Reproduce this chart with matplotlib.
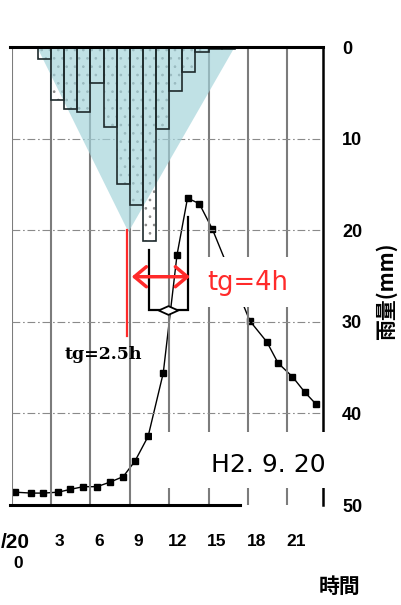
import numpy as np
import matplotlib
matplotlib.use("Agg")
import matplotlib.pyplot as plt
from matplotlib.patches import Polygon, Rectangle
from matplotlib.path import Path
from matplotlib.transforms import ScaledTranslation

plt.rcParams['font.family'] = ['Liberation Sans', 'DejaVu Sans']
plt.rcParams['hatch.linewidth'] = 0.7
CJK = ['Noto Sans CJK JP', 'DejaVu Sans']

# hourly rainfall (mm), bar starts at hour 2 .. 16
rain_start = np.arange(2, 17)
rain_mm = [1.3, 5.8, 6.8, 7.1, 3.9, 8.7, 15.0, 17.3, 21.2, 8.9, 4.8, 2.7, 0.5, 0.2, 0.2]

# discharge hydrograph (its own axis is cropped off in the source)
q_hour = [0.25, 1.5, 2.4, 3.55, 4.45, 5.45, 6.5, 7.5, 8.5, 9.4, 10.4, 11.55,
          12.6, 13.4, 14.3, 15.3, 18.15, 19.45, 20.3, 21.4, 22.35, 23.2]
q_val = [14, 13, 13, 14, 17, 20, 20, 25, 31, 48, 75, 144,
         273, 335, 329, 301, 201, 178, 155, 140, 123, 110]

# shaded triangle over the hyetograph
tri_hour = [1.93, 8.9, 17.0]
tri_rain = [0, 20.2, 0]

xticks = [3, 6, 9, 12, 15, 18, 21]
yticks = [0, 10, 20, 30, 40, 50]

RED = '#ff2a2a'
GRID = '#7c7c7c'

fig = plt.figure(figsize=(4.02, 6.05), dpi=100)
axq = fig.add_axes([11.7 / 402, 100 / 605, 311.6 / 402, 458 / 605])
axq.set_xlim(0, 23.75)
axq.set_ylim(0, 500)
axr = axq.twinx()
axr.set_ylim(50, 0)
for a in (axq, axr):
    for s in a.spines.values():
        s.set_visible(False)
axq.set_yticks([])

# right axis: rainfall
axr.set_yticks(yticks)
axr.set_yticklabels([str(v) for v in yticks], fontsize=13, fontweight='bold')
axr.tick_params(axis='y', length=0, pad=13.5)

# bottom axis: time
axq.set_xticks(xticks)
axq.set_xticklabels([str(v) for v in xticks], fontsize=12.5, fontweight='bold')
axq.tick_params(axis='x', length=0, pad=21)
off = ScaledTranslation(8.5 / 100, 0, fig.dpi_scale_trans)
for lab in axq.get_xticklabels():
    lab.set_transform(lab.get_transform() + off)
# date label, cropped at the left edge in the source
fig.text(1 / 402, 1 - 542 / 605, '/20', ha='left', va='center', fontsize=15,
         fontweight='bold')
axr.text(0.48, 56.4, '0', ha='center', va='center', fontsize=12.5,
         fontweight='bold', clip_on=False)

# grid
axr.vlines([0, 3, 6, 9, 12, 15, 18, 21], 0, 50, colors=GRID, lw=1.5, zorder=0.5)
axr.hlines([10, 20, 30, 40], 0, 23.75, colors='#8a8a8a', lw=0.8,
           linestyles=(0, (7, 2.5, 1.5, 2.5)), zorder=0.5)

# hydrograph
axq.plot(q_hour, q_val, '-s', color='black', lw=1.0, ms=4.5, zorder=2)

# hyetograph + triangle
axr.bar(rain_start, rain_mm, width=1, align='edge', color='white',
        edgecolor='#888888', hatch='..', lw=0, zorder=2)
axr.add_patch(Polygon(list(zip(tri_hour, tri_rain)), closed=True,
                      fc='#a3d3da', alpha=0.68, ec='none', zorder=3))
axr.bar(rain_start, rain_mm, width=1, align='edge', fill=False,
        edgecolor='#1e2a2c', lw=1.2, zorder=3.5)

# frame
axr.plot([-0.15, 23.75], [0, 0], color='black', lw=2.2, zorder=5, clip_on=False)
axr.plot([23.75, 23.75], [0, 50], color='black', lw=1.8, zorder=5, clip_on=False)
axr.plot([-0.15, 17.4], [50, 50], color='black', lw=2.2, zorder=5, clip_on=False)

# lag-time annotations
axr.plot([10.5, 10.5, 13.46, 13.46], [22.16, 28.71, 28.71, 18.53],
         color='black', lw=1.6, zorder=4, solid_joinstyle='miter')
diamond = Path([(-1, 0), (0, 0.45), (1, 0), (0, -0.45), (-1, 0)], closed=True)
axr.plot(11.94, 28.71, marker=diamond, ms=14, mfc='white', mec='black',
         mew=1.3, zorder=5)
axr.plot([8.78, 8.78], [20.0, 31.5], color=RED, lw=1.6, zorder=4)
axr.annotate('', xy=(13.59, 25.08), xytext=(9.15, 25.08),
             arrowprops=dict(arrowstyle='<->,head_length=0.43,head_width=0.36',
                             color=RED, lw=2.5, shrinkA=0, shrinkB=0,
                             mutation_scale=20), zorder=5)
axr.text(7.0, 33.6, 'tg=2.5h', ha='center', va='center', fontsize=12.5,
         fontweight='bold', family=['DejaVu Serif'], zorder=6)

axr.add_patch(Rectangle((14.12, 22.9), 7.63, 5.5, fc='white', ec='none', zorder=5.5))
axr.text(18.0, 25.8, 'tg=4h', ha='center', va='center', fontsize=18.5,
         color=RED, family=['DejaVu Sans'], zorder=6)

axr.add_patch(Rectangle((10.7, 42.0), 13.5, 6.1, fc='white', ec='none',
                        zorder=5.5, clip_on=False))
axr.text(23.9, 45.6, 'H2. 9. 20', ha='right', va='center', fontsize=18,
         family=['DejaVu Sans'], zorder=6, clip_on=False)

fig.text(340 / 402, 1 - 586 / 605, '時間', fontsize=15, fontweight='bold',
         family=CJK, ha='center', va='center')
fig.text(386 / 402, 1 - 291 / 605, '雨量(mm)', rotation=90, fontsize=15,
         fontweight='bold', family=CJK, ha='center', va='center')

fig.savefig('out.png', dpi=100)
